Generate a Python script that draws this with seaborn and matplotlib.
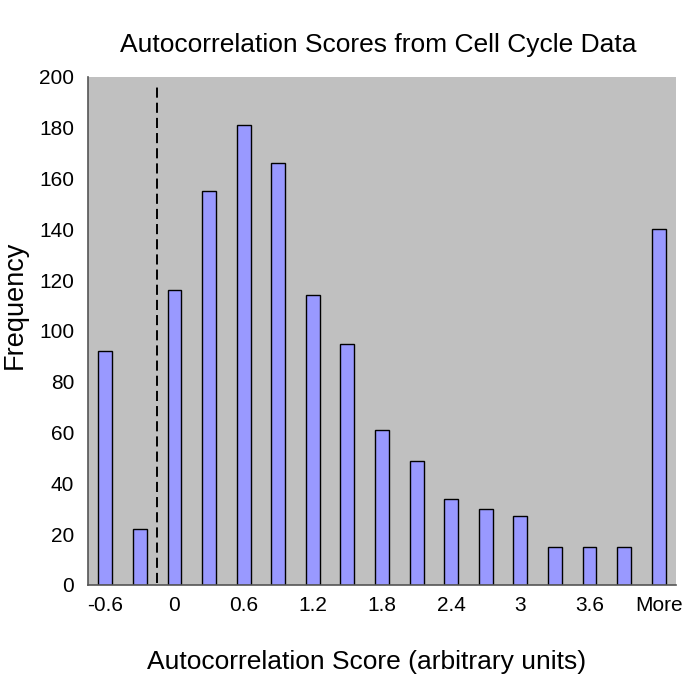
import matplotlib
matplotlib.use("Agg")
import matplotlib.pyplot as plt
import seaborn as sns
import numpy as np
import pandas as pd

categories = ["-0.6", "-0.3", "0", "0.3", "0.6", "0.9", "1.2", "1.5", "1.8",
              "2.1", "2.4", "2.7", "3", "3.3", "3.6", "3.9", "More"]
frequency = [92, 22, 116, 155, 181, 166, 114, 95, 61, 49, 34, 30, 27, 15, 15, 15, 140]
shown_labels = ["-0.6", "0", "0.6", "1.2", "1.8", "2.4", "3", "3.6", "More"]
y_ticks = list(range(0, 201, 20))

sns.set_style("white")
plt.rcParams['font.family'] = ['Liberation Sans', 'DejaVu Sans']
plt.rcParams['text.color'] = 'black'
plt.rcParams['xtick.labelcolor'] = 'black'
plt.rcParams['ytick.labelcolor'] = 'black'

df = pd.DataFrame({"score": categories, "freq": frequency})

fig = plt.figure(figsize=(6.98, 6.75), dpi=100)
ax = fig.add_axes([88/698, 1-585/675, (676-88)/698, (585-77)/675])
ax.set_facecolor("#c0c0c0")

sns.barplot(data=df, x="score", y="freq", order=categories, color="#9999ff",
            edgecolor="black", linewidth=1.0, width=0.4, saturation=1, ax=ax)

ax.set_xlim(-0.5, len(categories) - 0.5)
ax.set_ylim(0, 200)
ax.set_yticks(y_ticks)
ax.set_yticklabels([str(v) for v in y_ticks], fontsize=15, color="black")

major_pos = [categories.index(c) for c in shown_labels]
ax.set_xticks(major_pos)
ax.set_xticklabels(shown_labels, fontsize=15, color="black")
ax.set_xticks(np.arange(-0.5, len(categories), 1.0), minor=True)
ax.tick_params(axis="x", which="major", length=0, pad=8)
ax.tick_params(axis="x", which="minor", direction="inout", length=8, width=1, color="#333333")
ax.tick_params(axis="y", which="major", direction="inout", length=10, width=1, color="#333333", pad=5)

for s in ["top", "right"]:
    ax.spines[s].set_visible(False)
for s in ["left", "bottom"]:
    ax.spines[s].set_color("#555555")
    ax.spines[s].set_linewidth(1.2)

ax.axvline(1.5, ymin=0.003, ymax=0.988, color="black", lw=1.4, linestyle=(0, (5.2, 2.6)))

ax.set_xlabel("")
ax.set_ylabel("")
fig.text(378/698, 1-45/675, "Autocorrelation Scores from Cell Cycle Data",
         ha="center", va="center", fontsize=19)
fig.text(367/698, 1-662/675, "Autocorrelation Score (arbitrary units)",
         ha="center", va="center", fontsize=19)
fig.text(15/698, 1-305/675, "Frequency", ha="center", va="center",
         rotation=90, fontsize=19.5)

fig.savefig("out.png", dpi=100)
